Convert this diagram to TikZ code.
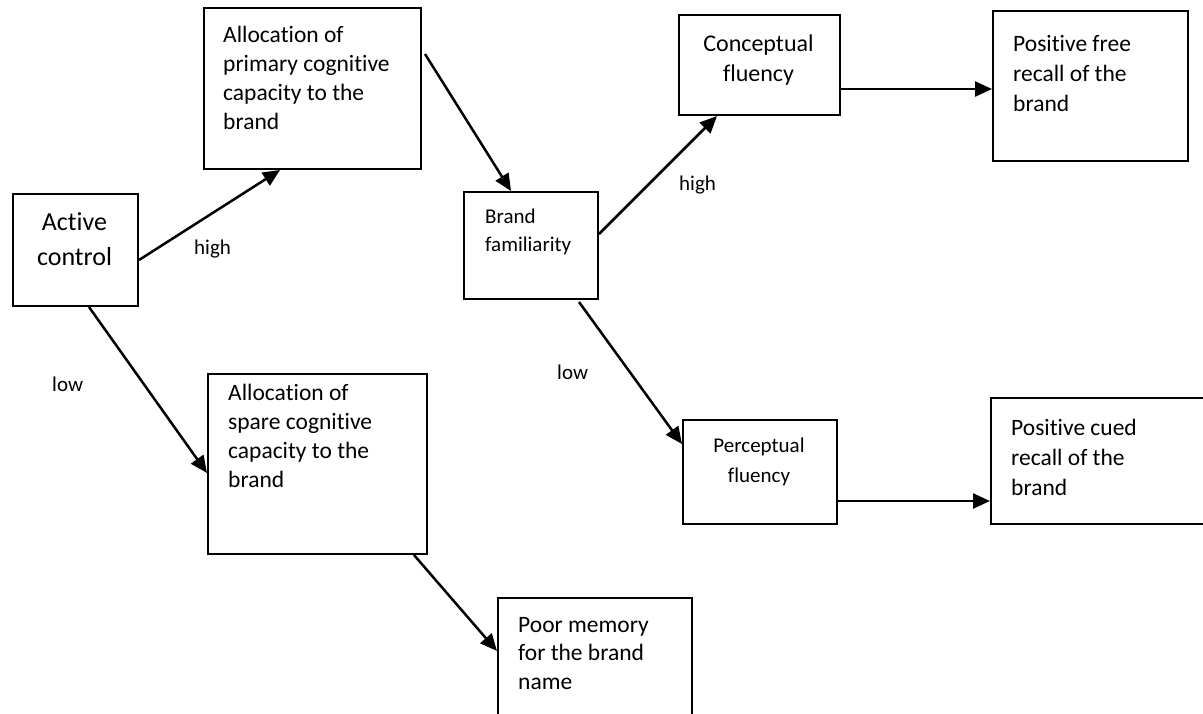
\documentclass[tikz,border=0pt]{standalone}
\usepackage{fontspec}
\setmainfont{Carlito}[Ligatures=NoCommon]
\usetikzlibrary{arrows.meta}

\begin{document}
\begin{tikzpicture}[x=1pt,y=-1pt,
    box/.style={draw,line width=2pt,anchor=north west,inner sep=0pt},
    txt/.style={anchor=north west,inner sep=0pt,align=left,font=\fontsize{23.5}{29}\selectfont},
    ctxt/.style={txt,anchor=north,align=center},
    arr/.style={-{Triangle[length=17pt,width=15pt]},line width=2.5pt}]
        \clip (0,0) rectangle (1203,713);

        \node[box,minimum width=125pt,minimum height=112pt] at (12,193) (active){};
        \node[box,minimum width=217pt,minimum height=161pt] at (203,7) (primary){};
        \node[box,minimum width=134pt,minimum height=107pt] at (463,191) (brand){};
        \node[box,minimum width=161pt,minimum height=100pt] at (678,14) (concept){};
        \node[box,minimum width=195pt,minimum height=150pt] at (992,10) (free){};
        \node[box,minimum width=219pt,minimum height=180pt] at (207,373) (spare){};
        \node[box,minimum width=154pt,minimum height=104pt] at (682,419) (percept){};
        \node[box,minimum width=230pt,minimum height=126pt] at (990,397) (cued){};
        \node[box,minimum width=194pt,minimum height=140pt] at (497,597) (poor){};

        \node[ctxt,font=\fontsize{26}{35}\selectfont] at (74.5,212) (activetxt){Active\\control};
        \node[txt] at (223,26) (primarytxt){Allocation of\\primary cognitive\\capacity to the\\brand};
        \node[txt,font=\fontsize{21}{28}\selectfont] at (485,209) (brandtxt){Brand\\familiarity};
        \node[ctxt,font=\fontsize{24}{30}\selectfont] at (758.5,35) (concepttxt){Conceptual\\fluency};
        \node[txt,font=\fontsize{23.5}{30}\selectfont] at (1013,35) (freetxt){Positive free\\recall of the\\brand};
        \node[txt] at (228,384) (sparetxt){Allocation of\\spare cognitive\\capacity to the\\brand};
        \node[ctxt,font=\fontsize{21}{30}\selectfont] at (759,438) (percepttxt){Perceptual\\fluency};
        \node[txt,font=\fontsize{23.5}{30}\selectfont] at (1011,419) (cuedtxt){Positive cued\\recall of the\\brand};
        \node[txt,font=\fontsize{23.5}{28.5}\selectfont] at (518,617) (poortxt){Poor memory\\for the brand\\name};

        \node[txt,font=\fontsize{21}{25}\selectfont] at (194,240) (highA){high};
        \node[txt,font=\fontsize{21}{25}\selectfont] at (679,176) (highB){high};
        \node[txt,font=\fontsize{21}{25}\selectfont] at (52,377) (lowA){low};
        \node[txt,font=\fontsize{21}{25}\selectfont] at (557,365) (lowB){low};

        \coordinate (cf) at ([shift={(0,24)}]concept.east);
        \coordinate (pc) at ([shift={(0,29)}]percept.east);

        \draw[arr] ([shift={(0,10)}]active.east) -- ([shift={(-32.5,0)}]primary.south); %active-primary
        \draw[arr] ([shift={(13.5,0)}]active.south) -- ([shift={(0,9)}]spare.west); %active-spare
        \draw[arr] ([shift={(3,-34.5)}]primary.east) -- ([shift={(-20,0)}]brand.north); %primary-brand
        \draw[arr] ([shift={(0,-11.5)}]brand.east) -- ([shift={(-42.5,0)}]concept.south); %brand-concept
        \draw[arr] ([shift={(48,2)}]brand.south) -- ([shift={(0,-28)}]percept.west); %brand-percept
        \draw[arr] (cf) -- (cf -| free.west); %concept-free
        \draw[arr] (pc) -- (pc -| cued.west); %percept-cued
        \draw[arr] ([shift={(96.5,0)}]spare.south) -- ([shift={(0,-17)}]poor.west); %spare-poor
    \end{tikzpicture}
\end{document}
